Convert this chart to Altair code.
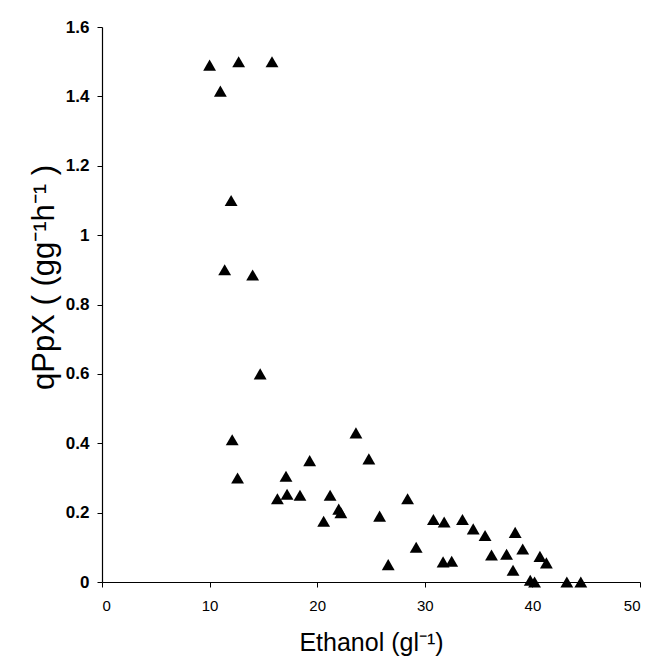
import altair as alt
import pandas as pd

ethanol = [10.0, 11.0, 12.7, 15.8, 12.0, 11.4, 14.0, 14.7, 12.1, 12.6,
           16.3, 17.1, 17.2, 18.4, 19.3, 20.6, 21.2, 22.0, 22.2, 23.6,
           24.8, 25.8, 26.6, 28.4, 29.2, 30.8, 31.8, 31.7, 32.5, 33.5,
           34.5, 35.6, 36.2, 37.6, 38.4, 38.2, 39.1, 39.8, 40.2, 40.7,
           41.3, 43.2, 44.5]
qppx = [1.49, 1.415, 1.50, 1.50, 1.10, 0.90, 0.885, 0.60, 0.41, 0.30,
        0.24, 0.305, 0.253, 0.25, 0.35, 0.175, 0.25, 0.21, 0.20, 0.43,
        0.355, 0.19, 0.05, 0.24, 0.10, 0.18, 0.173, 0.058, 0.06, 0.18,
        0.153, 0.134, 0.078, 0.08, 0.143, 0.034, 0.095, 0.005, 0.0, 0.074,
        0.055, 0.0, 0.0]

df = pd.DataFrame({"ethanol": ethanol, "qppx": qppx})

chart = alt.Chart(df).mark_point(
    shape="triangle-up", filled=True, color="black", opacity=1, size=165
).encode(
    x=alt.X("ethanol:Q", scale=alt.Scale(domain=[0, 50], nice=False),
            axis=alt.Axis(values=[0, 10, 20, 30, 40, 50], title="Ethanol (gl⁻¹)",
                          labelFontSize=15, labelFont="Liberation Sans",
                          titleFontSize=25, titleFont="Liberation Sans",
                          titleFontWeight="normal", titlePadding=17,
                          labelPadding=11)),
    y=alt.Y("qppx:Q", scale=alt.Scale(domain=[0, 1.6], nice=False),
            axis=alt.Axis(values=[0, 0.2, 0.4, 0.6, 0.8, 1.0, 1.2, 1.4, 1.6],
                          format=".1~f", title="qPpX ( (gg⁻¹h⁻¹ )",
                          labelFontSize=17, labelFontWeight="bold",
                          labelFont="Liberation Sans",
                          titleFontSize=31, titleFont="Liberation Sans",
                          titleFontWeight="normal", titlePadding=5,
                          titleY=250, labelPadding=8)),
).properties(
    width=538, height=555,
    autosize=alt.AutoSizeParams(type="none"),
    padding={"left": 94, "top": 19, "right": 10, "bottom": 79},
).configure_view(stroke=None).configure_axis(
    grid=False, domainColor="black", tickColor="black", labelColor="black",
    titleColor="black", tickSize=5, domainWidth=1.2, tickWidth=1
)

chart.save("out.html", embed_options={"renderer": "svg", "actions": False})
